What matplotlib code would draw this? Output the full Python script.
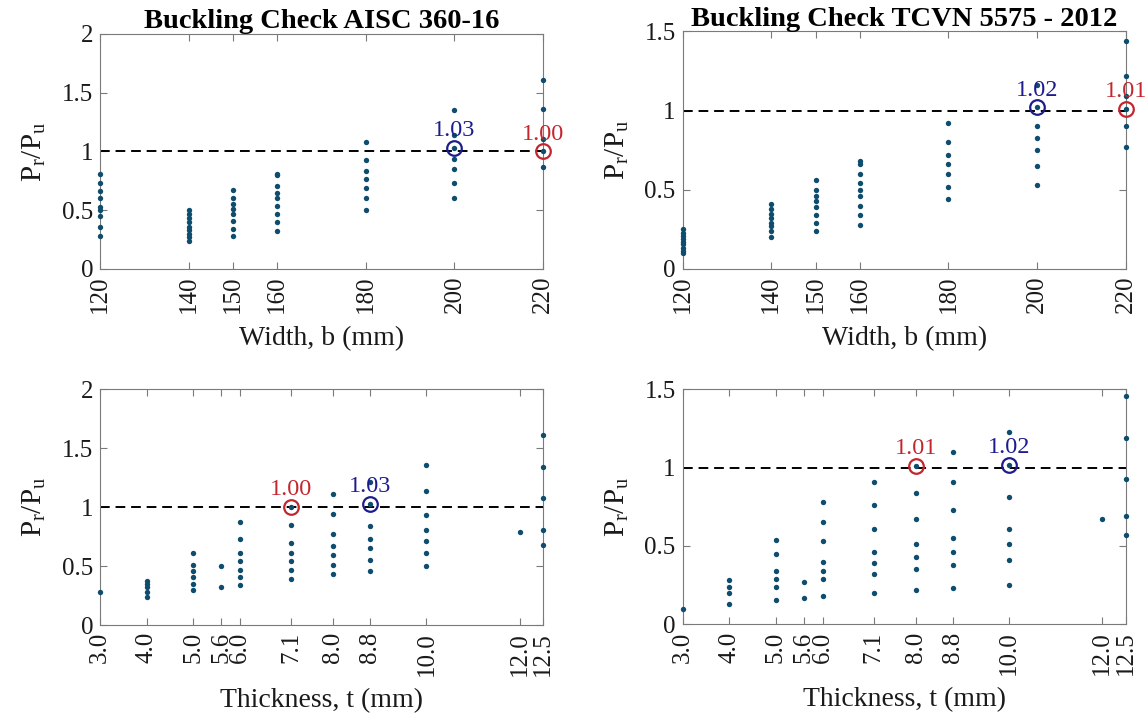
#!/usr/bin/env python3
"""
Buckling check scatter plots: P_r/P_u against width and thickness (AISC vs TCVN)
"""
import matplotlib
matplotlib.use('Agg')
import matplotlib.pyplot as plt

# x categories
widths = [120, 140, 150, 160, 180, 200, 220]
thicknesses = [3.0, 4.0, 5.0, 5.6, 6.0, 7.1, 8.0, 8.8, 10.0, 12.0, 12.5]

# AISC 360-16, grouped by width
aisc_by_width = [
    [0.81, 0.73, 0.66, 0.60, 0.53, 0.50, 0.45, 0.36, 0.28],
    [0.50, 0.47, 0.43, 0.40, 0.36, 0.33, 0.30, 0.27, 0.24],
    [0.67, 0.60, 0.55, 0.51, 0.47, 0.41, 0.34, 0.28],
    [0.81, 0.80, 0.71, 0.65, 0.60, 0.54, 0.47, 0.40, 0.32],
    [1.08, 0.93, 0.83, 0.77, 0.69, 0.60, 0.50],
    [1.35, 1.14, 1.03, 0.94, 0.85, 0.73, 0.60],
    [1.61, 1.36, 1.11, 1.00, 0.87],
]

# TCVN 5575-2012, grouped by width
tcvn_by_width = [
    [0.25, 0.23, 0.21, 0.19, 0.17, 0.155, 0.135, 0.115, 0.10],
    [0.41, 0.38, 0.35, 0.32, 0.29, 0.27, 0.24, 0.20],
    [0.56, 0.50, 0.46, 0.43, 0.39, 0.34, 0.29, 0.24],
    [0.68, 0.66, 0.60, 0.54, 0.50, 0.46, 0.40, 0.34, 0.28],
    [0.92, 0.80, 0.72, 0.66, 0.60, 0.52, 0.44],
    [1.16, 1.02, 0.90, 0.83, 0.75, 0.65, 0.53],
    [1.44, 1.22, 1.09, 1.01, 0.90, 0.77],
]

# AISC 360-16, grouped by thickness
aisc_by_thick = [
    [0.28],
    [0.375, 0.35, 0.32, 0.28, 0.24],
    [0.61, 0.51, 0.46, 0.41, 0.35, 0.30],
    [0.50, 0.32],
    [0.87, 0.73, 0.61, 0.54, 0.47, 0.41, 0.34],
    [1.00, 0.85, 0.70, 0.61, 0.54, 0.47, 0.39],
    [1.11, 0.94, 0.77, 0.67, 0.59, 0.51, 0.43],
    [1.21, 1.03, 0.84, 0.73, 0.65, 0.55, 0.46],
    [1.36, 1.14, 0.93, 0.81, 0.71, 0.61, 0.50],
    [0.79],
    [1.61, 1.34, 1.08, 0.81, 0.68],
]

# TCVN 5575-2012, grouped by thickness
tcvn_by_thick = [
    [0.10],
    [0.28, 0.24, 0.20, 0.13],
    [0.54, 0.45, 0.34, 0.29, 0.24, 0.155],
    [0.27, 0.17],
    [0.78, 0.65, 0.53, 0.40, 0.34, 0.29, 0.18],
    [0.91, 0.76, 0.61, 0.46, 0.39, 0.32, 0.20],
    [1.01, 0.84, 0.67, 0.51, 0.43, 0.35, 0.22],
    [1.10, 0.91, 0.73, 0.55, 0.46, 0.38, 0.23],
    [1.23, 1.02, 0.81, 0.61, 0.51, 0.41, 0.25],
    [0.67],
    [1.46, 1.19, 0.93, 0.69, 0.57],
]

# highlighted governing points: (x, y, label, colour key)
aisc_width_marks = [(200, 1.03, '1.03', 'blue'), (220, 1.00, '1.00', 'red')]
tcvn_width_marks = [(200, 1.02, '1.02', 'blue'), (220, 1.01, '1.01', 'red')]
aisc_thick_marks = [(7.1, 1.00, '1.00', 'red'), (8.8, 1.03, '1.03', 'blue')]
tcvn_thick_marks = [(8.0, 1.01, '1.01', 'red'), (10.0, 1.02, '1.02', 'blue')]

DOT = '#0e4d6e'
MARK = {'red': '#c4262e', 'blue': '#1c1c8f'}
FRAME = '#7a7a7a'
TEXT = '#1a1a1a'

plt.rcParams['font.family'] = ['Liberation Serif', 'DejaVu Serif']
plt.rcParams['mathtext.fontset'] = 'custom'
plt.rcParams['mathtext.rm'] = 'Liberation Serif'
plt.rcParams['mathtext.it'] = 'Liberation Serif'


def draw_panel(ax, xs, groups, marks, xlim, ylim, yticks, xticklabels, xlabel, title=None):
    """Draw one scatter panel in a MATLAB-like box style"""
    for x, vals in zip(xs, groups):
        ax.scatter([x] * len(vals), vals, s=15, color=DOT, zorder=3, clip_on=False,
                   linewidths=0)
    ax.axhline(1.0, color='black', linestyle=(0, (5, 3)), linewidth=1.4, zorder=2)
    for x, y, label, key in marks:
        ax.plot(x, y, 'o', markersize=10.5, markerfacecolor='none',
                markeredgecolor=MARK[key], markeredgewidth=1.6, zorder=4, clip_on=False)
        ax.annotate(label, (x, y), xytext=(0, 5), textcoords='offset points',
                    ha='center', va='bottom', color=MARK[key], fontsize=17.5,
                    annotation_clip=False)

    ax.set_xlim(*xlim)
    ax.set_ylim(*ylim)
    ax.set_xticks(xs)
    ax.set_xticklabels(xticklabels, rotation=90)
    ax.set_yticks(yticks)
    ax.set_yticklabels([f'{v:g}' for v in yticks])
    ax.tick_params(direction='in', top=True, right=True, length=5, width=0.8,
                   color=FRAME, labelsize=18, labelcolor=TEXT, pad=5)
    for spine in ax.spines.values():
        spine.set_color(FRAME)
        spine.set_linewidth(0.8)
    ax.set_xlabel(xlabel, fontsize=20, color=TEXT, labelpad=9)
    ax.set_ylabel(r'$\mathregular{P_r/P_u}$', fontsize=21, color=TEXT, labelpad=10)
    if title:
        ax.set_title(title, fontsize=20.5, fontweight='bold', pad=4)


def main():
    """Build the 2x2 figure and save it"""
    fig = plt.figure(figsize=(11.47, 7.2), dpi=100)
    ax_tl = fig.add_axes([0.0872, 0.6264, 0.3862, 0.3264])
    ax_tr = fig.add_axes([0.5952, 0.6264, 0.3862, 0.3299])
    ax_bl = fig.add_axes([0.0872, 0.1319, 0.3862, 0.3274])
    ax_br = fig.add_axes([0.5952, 0.1329, 0.3862, 0.3264])

    width_labels = [str(w) for w in widths]
    thick_labels = [f'{t:.1f}' for t in thicknesses]

    draw_panel(ax_tl, widths, aisc_by_width, aisc_width_marks, (120, 220), (0, 2),
               [0, 0.5, 1, 1.5, 2], width_labels, 'Width, b (mm)',
               'Buckling Check AISC 360-16')
    draw_panel(ax_tr, widths, tcvn_by_width, tcvn_width_marks, (120, 220), (0, 1.5),
               [0, 0.5, 1, 1.5], width_labels, 'Width, b (mm)',
               'Buckling Check TCVN 5575 - 2012')
    draw_panel(ax_bl, thicknesses, aisc_by_thick, aisc_thick_marks, (3.0, 12.5), (0, 2),
               [0, 0.5, 1, 1.5, 2], thick_labels, 'Thickness, t (mm)')
    draw_panel(ax_br, thicknesses, tcvn_by_thick, tcvn_thick_marks, (3.0, 12.5), (0, 1.5),
               [0, 0.5, 1, 1.5], thick_labels, 'Thickness, t (mm)')

    fig.savefig('out.png', dpi=100)
    return 0


if __name__ == "__main__":
    main()
